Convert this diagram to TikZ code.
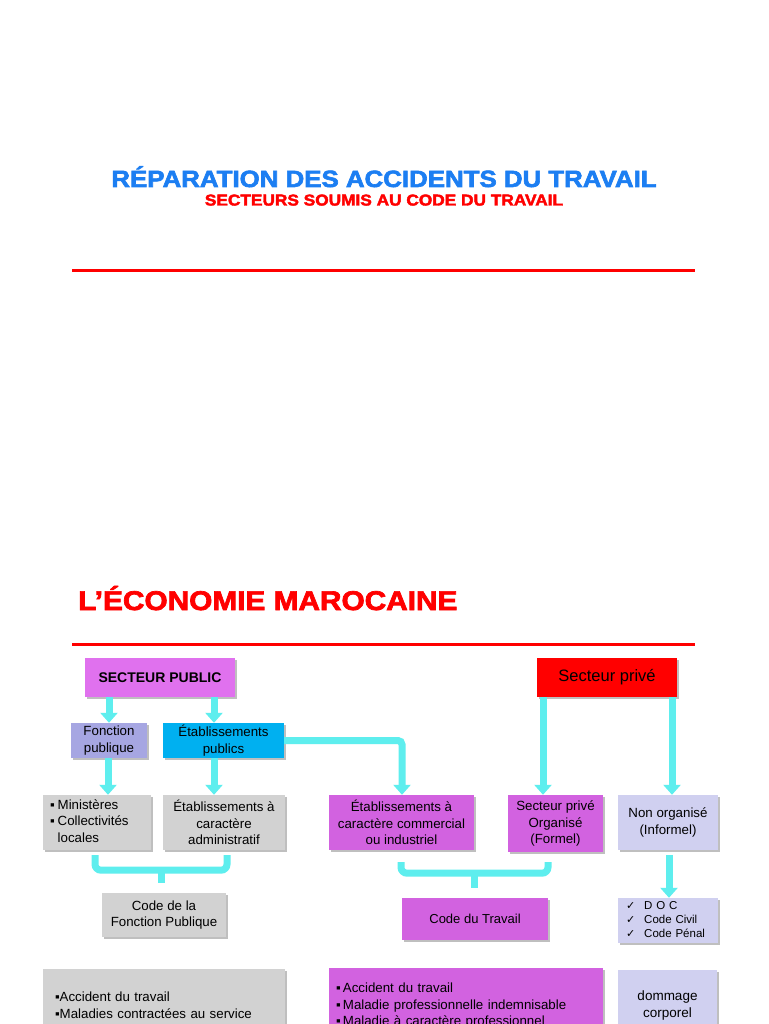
\documentclass[tikz,border=0pt]{standalone}
\usepackage{fontspec}
\usepackage{graphicx}
\setmainfont{Liberation Sans}
\newfontfamily\heavy{Liberation Sans}[BoldFeatures={FakeBold=2.5}]
\newfontfamily\symf{DejaVu Sans}
\usetikzlibrary{arrows.meta,shadows}
\definecolor{tblue}{RGB}{28,126,242}
\definecolor{vioA}{RGB}{224,113,238}
\definecolor{vioB}{RGB}{210,98,224}
\definecolor{fpblue}{RGB}{166,166,226}
\definecolor{epblue}{RGB}{0,176,240}
\definecolor{grbox}{RGB}{210,210,210}
\definecolor{lav}{RGB}{208,208,240}
\definecolor{acyan}{RGB}{94,238,238}
\begin{document}
\begin{tikzpicture}[x=1pt,y=-1pt,
  box/.style={inner sep=0pt, align=center, font=\fontsize{13.3}{16.7}\selectfont,
    drop shadow={shadow xshift=1.5pt, shadow yshift=-1.5pt, opacity=0.25, fill=black}},
  arr/.style={line width=7pt, draw=acyan, -{Triangle[width=17pt,length=10pt]}},
  link/.style={line width=7pt, draw=acyan, rounded corners=6pt},
  redrule/.style={line width=3pt, draw=red}]
\useasboundingbox (0,0) rectangle (768,1024);
\clip (0,0) rectangle (768,1024);
\fill[white] (0,0) rectangle (768,1024);

% titles
\node[anchor=base, inner sep=0pt, text=tblue] (t1) at (384,187) {\scalebox{1.1}[1]{\heavy\bfseries\fontsize{23.5}{26}\selectfont RÉPARATION DES ACCIDENTS DU TRAVAIL}};
\node[anchor=base, inner sep=0pt, text=red] (t2) at (384,205.5) {\scalebox{1.1}[1]{\heavy\bfseries\fontsize{15.7}{18}\selectfont SECTEURS SOUMIS AU CODE DU TRAVAIL}};
\coordinate (r1a) at (72,270); \coordinate (r1b) at (695,270);
\draw[redrule] (r1a) -- (r1b);

\node[anchor=base west, inner sep=0pt, text=red] (t3) at (78,610) {\scalebox{1.1}[1]{\heavy\bfseries\fontsize{27.1}{30}\selectfont L’ÉCONOMIE MAROCAINE}};
\coordinate (r2a) at (72,644); \coordinate (r2b) at (695,644);
\draw[redrule] (r2a) -- (r2b);

% row 1
\node[box, fill=vioA, minimum width=150pt, minimum height=39pt, font=\fontsize{14}{17}\selectfont\bfseries] (sp) at (160,677.5) {SECTEUR PUBLIC};
\node[box, fill=red, minimum width=140pt, minimum height=39pt, font=\fontsize{16.5}{20}\selectfont] (spr) at (607,677.5) {Secteur privé};

% row 2
\node[box, fill=fpblue, minimum width=76pt, minimum height=35pt] (fp) at (109,740.5) {Fonction\\publique};
\node[box, fill=epblue, minimum width=121pt, minimum height=35pt] (ep) at (223.5,740.5) {Établissements\\publics};

% row 3
\node[box, fill=grbox, minimum height=55pt, text width=94pt, inner xsep=7pt, align=left] (min) at (97,822.5)
  {\begin{tabular}{@{}l@{\hspace{3pt}}l@{}}▪&Ministères\\▪&Collectivités\\&locales\end{tabular}};
\node[box, fill=grbox, minimum width=122pt, minimum height=55pt] (eadm) at (224,822.5) {Établissements à\\caractère\\administratif};
\node[box, fill=vioB, minimum width=145pt, minimum height=55pt] (ecom) at (401.5,822.5) {Établissements à\\caractère commercial\\ou industriel};
\node[box, fill=vioB, minimum width=95pt, minimum height=57pt] (org) at (555.5,823.5) {Secteur privé\\Organisé\\(Formel)};
\node[box, fill=lav, minimum width=100pt, minimum height=55pt] (nonorg) at (668,822.5) {Non organisé\\(Informel)};

% row 4
\node[box, fill=grbox, minimum width=124pt, minimum height=44pt] (cfp) at (164,915) {Code de la\\Fonction Publique};
\node[box, fill=vioB, minimum width=146pt, minimum height=42pt, font=\fontsize{13}{16}\selectfont] (ct) at (475,919) {Code du Travail};
\node[box, fill=lav, minimum height=45pt, text width=84pt, inner xsep=8pt, align=left, font=\fontsize{11.5}{14}\selectfont] (doc) at (668,920.5)
  {\begin{tabular}{@{}l@{\hspace{9pt}}l@{}}{\symf\fontsize{11}{14}\selectfont ✓}&D O C\\{\symf\fontsize{11}{14}\selectfont ✓}&Code Civil\\{\symf\fontsize{11}{14}\selectfont ✓}&Code Pénal\end{tabular}};

% row 5
\node[box, fill=grbox, anchor=north, minimum height=72pt, text width=218pt, inner xsep=12pt, align=left] (bl) at (164,969)
  {▪Accident du travail\\▪Maladies contractées au service};
\node[box, fill=vioB, anchor=north, minimum height=75pt, text width=260pt, inner xsep=7pt, align=left] (bm) at (466,968)
  {▪\,Accident du travail\\▪\,Maladie professionnelle indemnisable\\▪\,Maladie à caractère professionnel};
\node[box, fill=lav, anchor=north, minimum width=99pt, minimum height=71pt, font=\fontsize{13.5}{17}\selectfont] (br) at (667.5,970)
  {dommage\\corporel};

% arrows
\draw[arr] (fp.north |- sp.south) -- (fp.north);
\draw[arr] ([xshift=-9.5pt]ep.north |- sp.south) -- ([xshift=-9.5pt]ep.north);
\draw[arr] ([xshift=-1pt]fp.south) -- ([xshift=-1pt]fp.south |- min.north);
\draw[arr] ([xshift=-9.5pt]ep.south) -- ([xshift=-9.5pt]ep.south |- eadm.north);
\draw[arr, rounded corners=4pt] (ep.east) -| ([xshift=0.5pt]ecom.north);
\draw[arr] ([xshift=-12.5pt]org.north |- spr.south) -- ([xshift=-12.5pt]org.north);
\draw[arr] ([xshift=4pt]nonorg.north |- spr.south) -- ([xshift=4pt]nonorg.north);
\draw[arr] ([xshift=1pt,yshift=-5pt]nonorg.south) -- ([xshift=1pt]doc.north);

% braces
\draw[link] ([xshift=-2pt,yshift=-5pt]min.south) |- ([xshift=3pt,yshift=-20pt]eadm.south) -- ([xshift=3pt,yshift=-5pt]eadm.south);
\draw[link, rounded corners=0pt] ([xshift=-3pt,yshift=10pt]cfp.north) -- ([xshift=-3pt,yshift=23pt]cfp.north);
\draw[link] ([xshift=-0.5pt,yshift=-12pt]ecom.south) |- ([xshift=-7.5pt,yshift=-21pt]org.south) -- ([xshift=-7.5pt,yshift=-10pt]org.south);
\draw[link, rounded corners=0pt] ([xshift=-1pt,yshift=10pt]ct.north) -- ([xshift=-1pt,yshift=25pt]ct.north);
\end{tikzpicture}
\end{document}
